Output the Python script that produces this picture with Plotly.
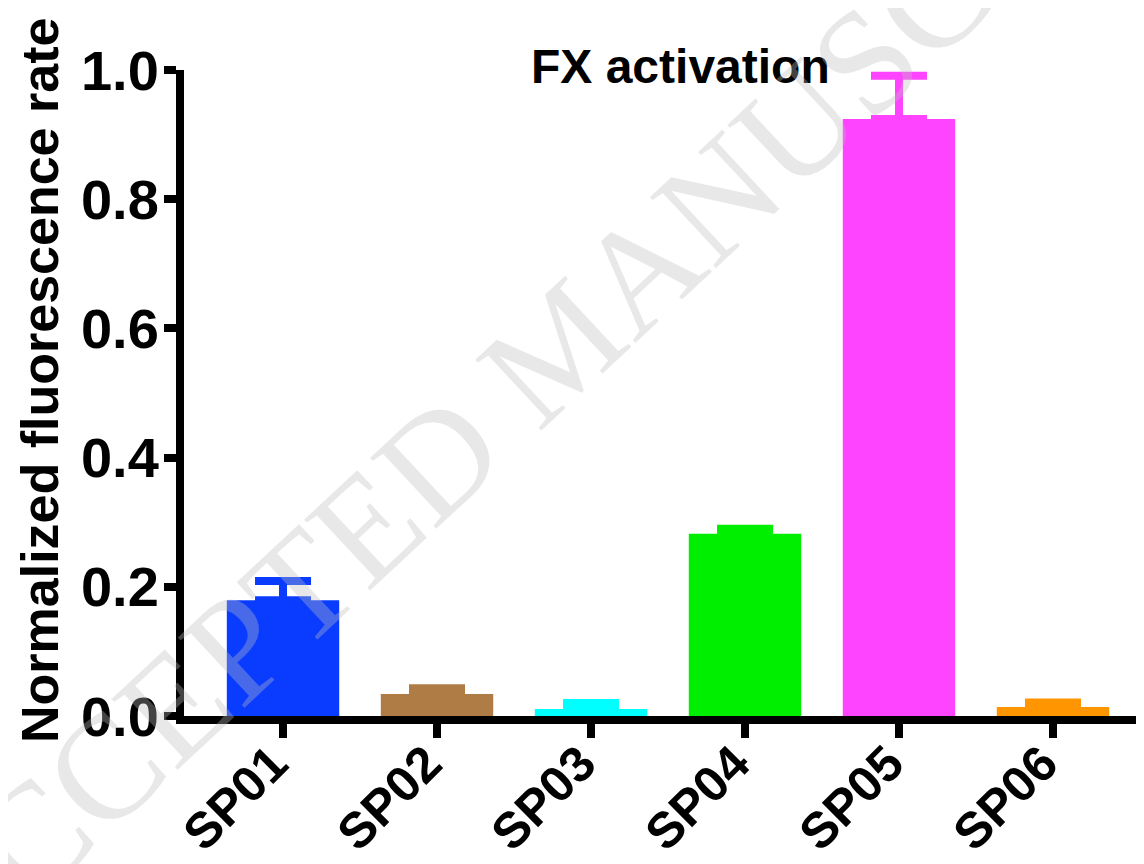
import plotly.graph_objects as go

categories = ["SP01", "SP02", "SP03", "SP04", "SP05", "SP06"]
values = [0.179, 0.034, 0.011, 0.282, 0.924, 0.014]
errors = [0.030, 0.009, 0.009, 0.008, 0.067, 0.007]
colors = ["#0a3cff", "#b07c45", "#00ffff", "#00ee00", "#ff44ff", "#ff9500"]
y_ticks = [0.0, 0.2, 0.4, 0.6, 0.8, 1.0]
y_tick_labels = ["0.0", "0.2", "0.4", "0.6", "0.8", "1.0"]

# page offset of the default HTML body margin
OFF = 8
W, H = 1144, 864
L, R, T, B = 176, 0, 62, 156
pw, ph = W - L - R, H - T - B


def px(xs):
    """screen x -> paper x"""
    return (xs - OFF - L) / pw


def py(ys):
    """screen y -> paper y"""
    return (H - B - (ys - OFF)) / ph


fig = go.Figure()
for cat, v, e, c in zip(categories, values, errors, colors):
    fig.add_trace(go.Bar(
        x=[cat], y=[v], marker=dict(color=c, line=dict(width=0)),
        width=0.73,
        error_y=dict(type="data", array=[e], arrayminus=[0], symmetric=False,
                     color=c, thickness=8, width=28),
        showlegend=False,
    ))

fig.update_layout(
    width=W, height=H,
    margin=dict(l=L, r=R, t=T, b=B),
    plot_bgcolor="white", paper_bgcolor="white",
    font=dict(family="Liberation Sans, Arial", color="black"),
    barmode="overlay",
)
fig.update_xaxes(
    type="category", categoryorder="array", categoryarray=categories,
    range=[-0.643, 5.643], automargin=False,
    showline=True, linewidth=8, linecolor="black",
    ticks="outside", ticklen=14, tickwidth=8, tickcolor="black",
    tickangle=-45, showgrid=False, zeroline=False,
    ticklabelstandoff=-24, ticklabelshift=-10,
    tickfont=dict(size=50, family="Liberation Sans, Arial", color="black", weight="bold"),
)
fig.update_yaxes(
    range=[0, 1.0], tickvals=y_ticks, ticktext=y_tick_labels, automargin=False,
    showline=True, linewidth=8, linecolor="black",
    ticks="outside", ticklen=12, tickwidth=8, tickcolor="black",
    showgrid=False, zeroline=False, ticklabelstandoff=-6,
    tickfont=dict(size=56, family="Liberation Sans, Arial", color="black", weight="bold"),
)
# y-axis title
fig.add_annotation(
    text="Normalized fluorescence rate", xref="paper", yref="paper",
    x=px(40), y=py(381), xanchor="center", yanchor="middle",
    textangle=-90, showarrow=False,
    font=dict(size=52, family="Liberation Sans, Arial", color="black", weight="bold"),
)
# chart title
fig.add_annotation(
    text="FX activation", xref="paper", yref="paper",
    x=px(680), y=py(67), xanchor="center", yanchor="middle",
    showarrow=False,
    font=dict(size=48, family="Liberation Sans, Arial", color="black", weight="bold"),
)
# watermark
fig.add_annotation(
    text="ACCEPTED MANUSCRIPT", xref="paper", yref="paper",
    x=px(560), y=py(345), xanchor="center", yanchor="middle",
    textangle=-43, showarrow=False,
    font=dict(size=148, family="Liberation Serif, Times New Roman",
              color="rgba(190,190,190,0.35)"),
)

fig.write_html("out.html")
